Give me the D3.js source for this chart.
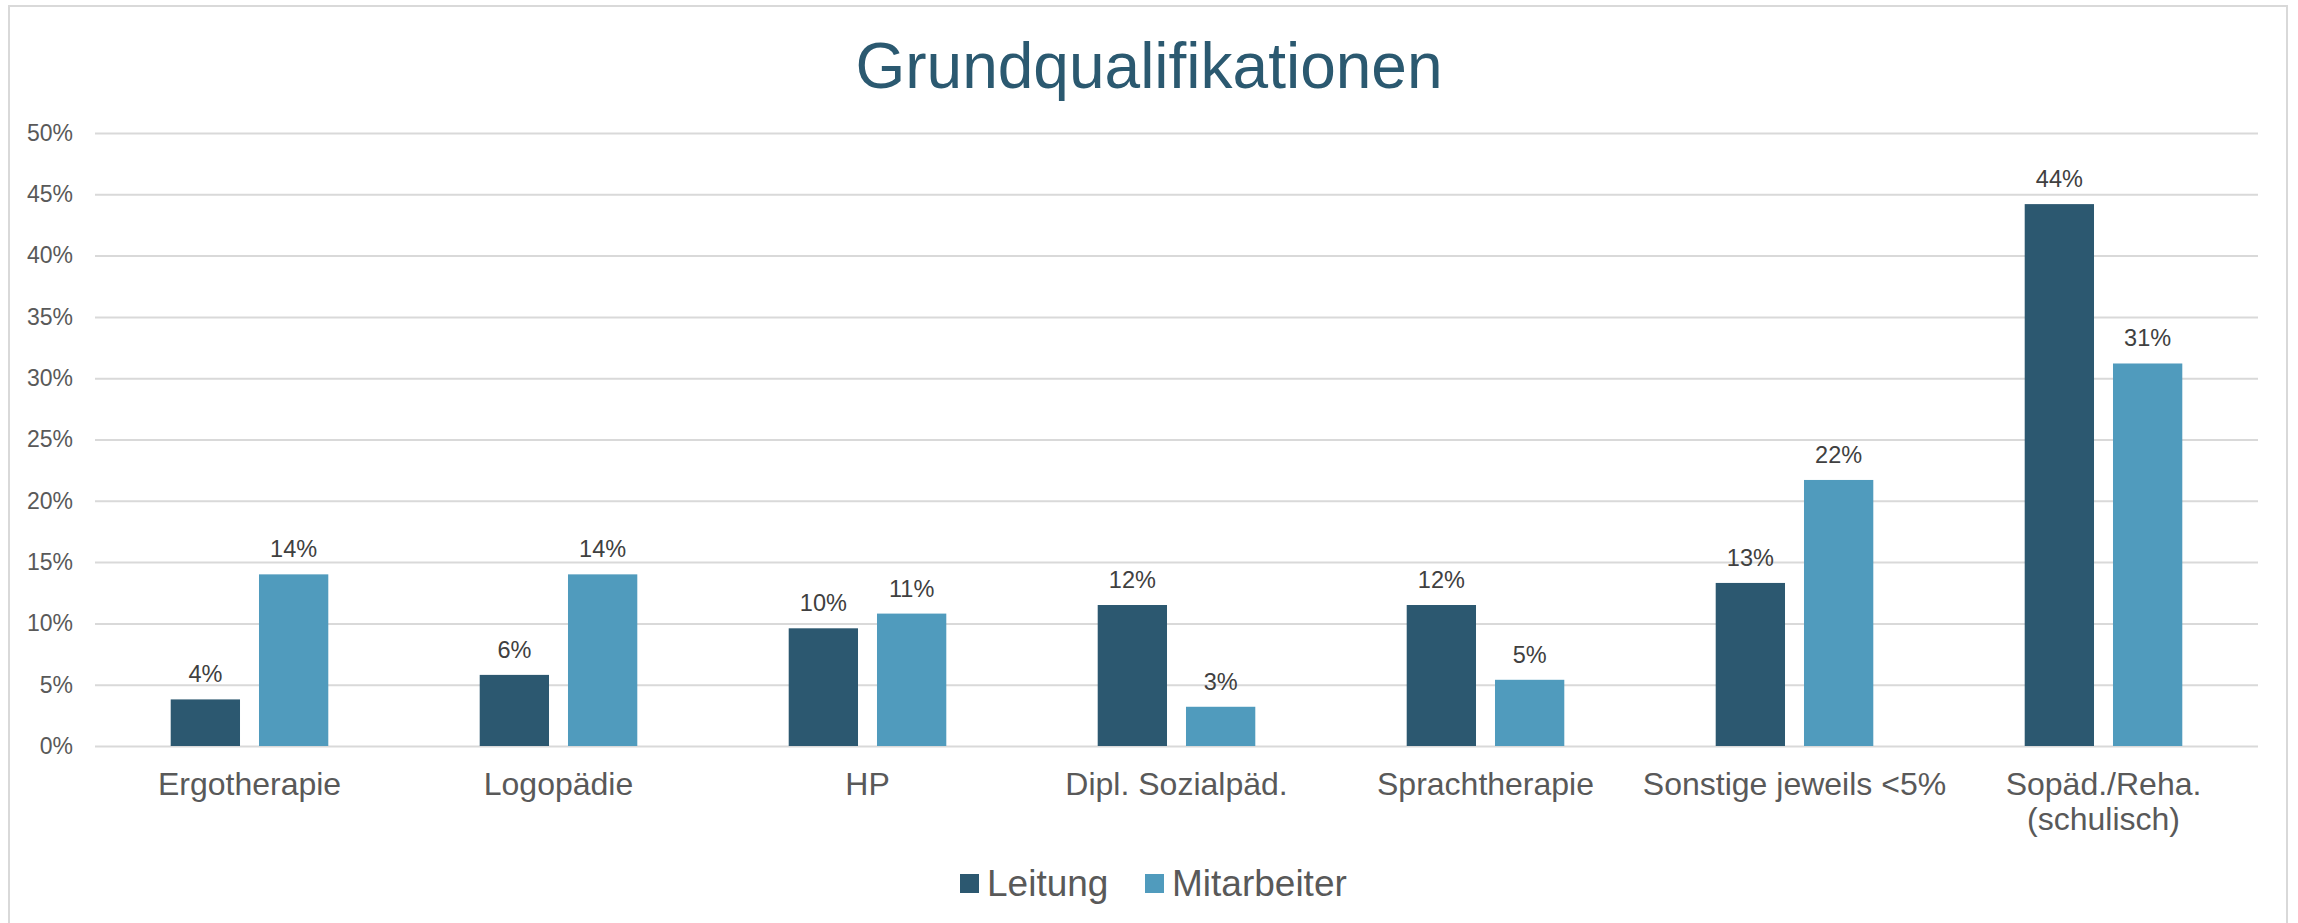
<!DOCTYPE html>
<html>
<head>
<meta charset="utf-8">
<script src="https://cdn.jsdelivr.net/npm/d3@7"></script>
<style>
  html, body { margin: 0; padding: 0; background: #fff; }
  svg { display: block; font-family: "Liberation Sans", Arial, sans-serif; }
</style>
</head>
<body>
<svg id="chart" width="2298" height="923"></svg>
<script>
const categories = ["Ergotherapie", "Logopädie", "HP", "Dipl. Sozialpäd.", "Sprachtherapie", "Sonstige jeweils <5%", "Sopäd./Reha. (schulisch)"];
const seriesNames = ["Leitung", "Mitarbeiter"];
const leitung = [3.8, 5.8, 9.6, 11.5, 11.5, 13.3, 44.2];
const mitarbeiter = [14.0, 14.0, 10.8, 3.2, 5.4, 21.7, 31.2];
const yTicks = [0, 5, 10, 15, 20, 25, 30, 35, 40, 45, 50];

const colors = { "Leitung": "#2C5870", "Mitarbeiter": "#509BBD" };

const width = 2298, height = 923;
const plot = { left: 95, right: 2258, top: 133, bottom: 746 };

const svg = d3.select("#chart");

// chart frame (Excel chart area border)
svg.append("rect")
    .attr("x", 9).attr("y", 6)
    .attr("width", 2278).attr("height", height + 20)
    .attr("fill", "none")
    .attr("stroke", "#D9D9D9")
    .attr("stroke-width", 2);

// title
svg.append("text")
    .attr("x", 1149)
    .attr("y", 88)
    .attr("text-anchor", "middle")
    .attr("fill", "#2B5970")
    .attr("font-size", "64px")
    .text("Grundqualifikationen");

const x0 = d3.scaleBand()
    .domain(categories)
    .range([plot.left, plot.right])
    .paddingInner(0)
    .paddingOuter(0);

// two bars per group, gap between them
const groupW = x0.bandwidth() * 0.51;
const x1 = d3.scaleBand()
    .domain(seriesNames)
    .range([-groupW / 2, groupW / 2])
    .paddingInner(0.215);

const y = d3.scaleLinear()
    .domain([0, 50])
    .range([plot.bottom, plot.top]);

// y axis + gridlines
const yAxis = svg.append("g")
    .attr("transform", `translate(${plot.left},0)`)
    .call(d3.axisLeft(y)
        .tickValues(yTicks)
        .tickSize(-(plot.right - plot.left))
        .tickPadding(22)
        .tickFormat(d => d + "%"));
yAxis.select(".domain").remove();
yAxis.selectAll("line").attr("stroke", "#D9D9D9").attr("stroke-width", 2);
yAxis.selectAll("text")
    .attr("fill", "#595959")
    .attr("font-size", "23px")
    .attr("font-family", "Liberation Sans, Arial, sans-serif");

// x axis labels
const xAxis = svg.append("g")
    .attr("transform", `translate(0,${plot.bottom})`)
    .call(d3.axisBottom(x0).tickSize(0));
xAxis.select(".domain").remove();
xAxis.selectAll("text")
    .attr("fill", "#595959")
    .attr("font-size", "32px")
    .attr("font-family", "Liberation Sans, Arial, sans-serif")
    .attr("y", 49)
    .attr("dy", 0)
    .call(wrap, x0.bandwidth());

function wrap(texts, maxW) {
    texts.each(function() {
        const text = d3.select(this);
        const words = text.text().split(/\s+/);
        const yPos = text.attr("y");
        text.text(null);
        let line = [];
        let lineNo = 0;
        let tspan = text.append("tspan").attr("x", 0).attr("y", yPos);
        words.forEach(w => {
            line.push(w);
            tspan.text(line.join(" "));
            if (tspan.node().getComputedTextLength() > maxW && line.length > 1) {
                line.pop();
                tspan.text(line.join(" "));
                line = [w];
                lineNo++;
                tspan = text.append("tspan").attr("x", 0).attr("y", +yPos + lineNo * 35).text(w);
            }
        });
    });
}

const rows = categories.map((c, i) => ({ cat: c, values: [
    { key: "Leitung", value: leitung[i] },
    { key: "Mitarbeiter", value: mitarbeiter[i] }
]}));

const groups = svg.selectAll(".group")
    .data(rows)
    .enter().append("g")
    .attr("class", "group")
    .attr("transform", d => `translate(${x0(d.cat) + x0.bandwidth() / 2},0)`);

groups.selectAll("rect")
    .data(d => d.values)
    .enter().append("rect")
    .attr("x", d => x1(d.key))
    .attr("y", d => y(d.value))
    .attr("width", x1.bandwidth())
    .attr("height", d => y(0) - y(d.value))
    .attr("fill", d => colors[d.key]);

groups.selectAll(".label")
    .data(d => d.values)
    .enter().append("text")
    .attr("class", "label")
    .attr("x", d => x1(d.key) + x1.bandwidth() / 2)
    .attr("y", d => y(d.value) - 17)
    .attr("text-anchor", "middle")
    .attr("fill", "#404040")
    .attr("font-size", "23.5px")
    .text(d => Math.round(d.value) + "%");

// legend
const legend = svg.append("g").attr("transform", "translate(960,874)");
const legendX = [0, 185];
seriesNames.forEach((s, i) => {
    const g = legend.append("g").attr("transform", `translate(${legendX[i]},0)`);
    g.append("rect")
        .attr("width", 19).attr("height", 19)
        .attr("fill", colors[s]);
    g.append("text")
        .attr("x", 27)
        .attr("y", 22)
        .attr("fill", "#595959")
        .attr("font-size", "37px")
        .text(s);
});
</script>
</body>
</html>
